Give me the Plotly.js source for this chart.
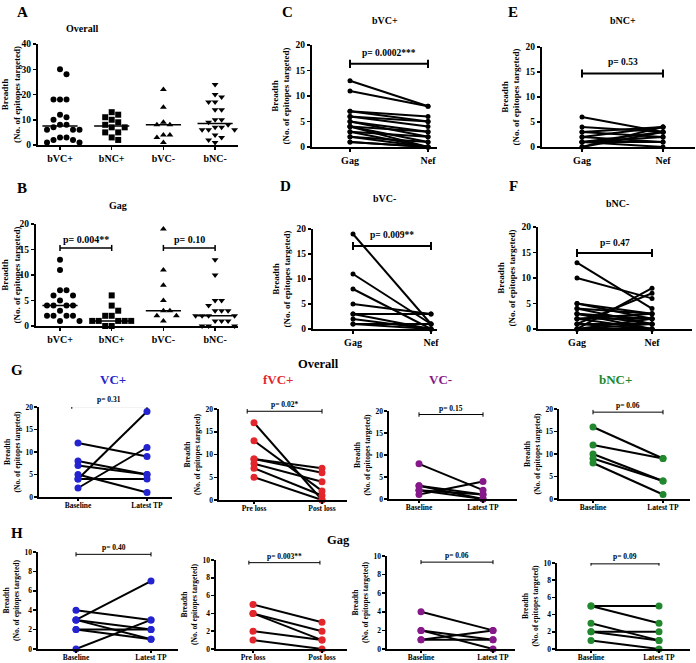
<!DOCTYPE html>
<html>
<head>
<meta charset="utf-8">
<script src="https://cdn.plot.ly/plotly-3.0.1.min.js"></script>
<style>
  html, body { margin: 0; padding: 0; background: #fff; }
  #fig { width: 696px; height: 663px; }
</style>
</head>
<body>
<div id="fig"></div>
<script>
// ---- datos: amplitud (n.º de epítopos) ----
const groups = ['bVC+', 'bNC+', 'bVC-', 'bNC-'];

// A: Overall
const ovBVCpos = [30, 28, 18, 18, 18, 12, 11, 10, 8, 8, 7, 6, 6, 6, 3, 3, 2, 2, 1, 1];
const ovBNCpos = [13, 12, 11, 10, 9, 8, 7, 7, 5, 5, 3, 2];
const ovBVCneg = [22, 15, 9, 8, 8, 4, 4, 3, 1];
const ovBNCneg = [24, 20, 19, 17, 17, 14, 14, 10, 10, 9, 8, 7, 7, 6, 6, 6, 4, 3, 2, 1];

// B: Gag
const gagBVCpos = [13, 11, 7, 7, 6, 6, 5, 4, 4, 4, 4, 3, 2, 2, 2, 2, 1, 1];
const gagBNCpos = [6, 4, 3, 2, 2, 1, 1, 1, 1, 1, 0, 0];
const gagBVCneg = [19, 11, 8, 5, 3, 3, 2, 2, 1];
const gagBNCneg = [13, 10, 5, 5, 4, 3, 3, 3, 2, 2, 2, 2, 2, 1, 1, 1, 0, 0, 0];

// C-F: Gag vs Nef
const gagNef = ['Gag', 'Nef'];
const cGag = [13, 11, 7, 7, 6, 6, 5, 5, 4, 4, 4, 3, 3, 2, 2, 1, 1];
const cNef = [8, 8, 6, 5, 5, 4, 3, 2, 3, 1, 0, 2, 0, 1, 0, 0, 0];
const dGag = [19, 11, 8, 5, 3, 3, 2, 1, 1];
const dNef = [1, 1, 0, 3, 3, 0, 0, 0, 1];
const eGag = [6, 4, 3, 3, 2, 2, 1, 1, 1, 1, 0, 0];
const eNef = [3, 3, 4, 2, 4, 1, 3, 2, 0, 1, 3, 4];
const fGag = [13, 10, 5, 5, 4, 4, 3, 3, 3, 2, 2, 2, 1, 1, 1, 0, 0, 0, 0];
const fNef = [4, 6, 3, 2, 3, 1, 2, 1, 0, 3, 2, 0, 7, 1, 0, 8, 2, 1, 0];

// G: Overall, seguimiento
const baseLatest = ['Baseline', 'Latest TP'];
const prePost = ['Pre loss', 'Post loss'];
const g1Base = [12, 8, 7, 5, 4, 2, 4];
const g1Late = [9, 5, 5, 1, 19, 11, 4];
const g2Pre = [17, 13, 9, 9, 8, 7, 5];
const g2Post = [0, 2, 7, 6, 4, 1, 0];
const g3Base = [8, 3, 3, 2, 1, 2];
const g3Late = [2, 1, 0, 0, 4, 1];
const g4Base = [16, 12, 10, 9, 8];
const g4Late = [9, 9, 4, 4, 1];

// H: Gag, seguimiento
const h1Base = [4, 3, 3, 3, 2, 2, 0];
const h1Late = [3, 7, 2, 1, 2, 1, 3];
const h2Pre = [5, 4, 4, 2, 1];
const h2Post = [3, 2, 1, 1, 0];
const h3Base = [4, 2, 2, 1, 1];
const h3Late = [2, 0, 1, 2, 1];
const h4Base = [5, 5, 3, 2, 2, 1];
const h4Late = [5, 3, 1, 2, 1, 0];

// ---- configuración ----
const W = 696, H = 663;
const serif = 'Liberation Serif, Times New Roman, serif';
const BLUE = '#2323cf', RED = '#e3262b', PURPLE = '#86198a', GREEN = '#21882d';
const yTitle = 'Breadth<br>(No. of epitopes targeted)';

const layout = {
    width: W, height: H,
    margin: { l: 0, r: 0, t: 0, b: 0 },
    paper_bgcolor: '#fff', plot_bgcolor: 'rgba(0,0,0,0)',
    showlegend: false,
    font: { family: serif, color: '#000' },
    annotations: [], shapes: []
};
const traces = [];

// caja en px: [izq, der, arriba, abajo]; c0/c1 = px de las dos primeras categorías
function addPanel(i, box, cats, c0, c1, yMax, dtick, small) {
    const [l, r, t, b] = box;
    const unit = c1 - c0;
    const sfx = i === 1 ? '' : String(i);
    const tf = { family: serif, size: small ? 7.5 : 9.5, color: '#000', weight: 'bold' };
    layout['xaxis' + sfx] = {
        domain: [l / W, r / W], anchor: 'y' + sfx,
        range: [(l - c0) / unit, (r - c0) / unit],
        tickvals: cats.map((c, k) => k), ticktext: cats,
        showline: true, linewidth: small ? 1.6 : 2, linecolor: '#000',
        ticks: 'outside', ticklen: small ? 2 : 3, tickwidth: 1.5, tickcolor: '#000',
        ticklabelstandoff: small ? -2 : 0,
        showgrid: false, zeroline: false, fixedrange: true,
        tickfont: { family: serif, size: small ? 7.5 : 10, color: '#000', weight: 'bold' }
    };
    layout['yaxis' + sfx] = {
        domain: [1 - b / H, 1 - t / H], anchor: 'x' + sfx,
        range: [0, yMax], dtick: dtick,
        showline: true, linewidth: small ? 1.6 : 2, linecolor: '#000',
        ticks: 'outside', ticklen: 3, tickwidth: 1.5, tickcolor: '#000',
        showgrid: false, zeroline: false, fixedrange: true, tickfont: tf,
        title: { text: yTitle, standoff: 4,
                 font: { family: serif, size: small ? 7.5 : 9, color: '#000', weight: 'bold' } }
    };
    return { x: 'x' + sfx, y: 'y' + sfx, pxX: unit, pxY: (b - t) / yMax,
             paperY: v => 1 - (b - v * (b - t) / yMax) / H };
}

// reparto tipo "beeswarm" para los puntos de A y B
function swarm(vals, cat, pxX, pxY, d) {
    const order = vals.map((v, i) => i).sort((a, b) => vals[b] - vals[a]);
    const placed = [];
    const xs = new Array(vals.length);
    order.forEach(i => {
        const y = vals[i] * pxY;
        for (let k = 0; k < 40; k++) {
            const off = (k === 0 ? 0 : (k % 2 ? 1 : -1) * Math.ceil(k / 2)) * d;
            if (placed.every(p => Math.hypot(p[0] - off, p[1] - y) >= d)) {
                placed.push([off, y]);
                xs[i] = cat + off / pxX;
                return;
            }
        }
    });
    return xs;
}

function median(arr) {
    const s = [...arr].sort((a, b) => a - b);
    const m = Math.floor(s.length / 2);
    return s.length % 2 ? s[m] : (s[m - 1] + s[m]) / 2;
}

const symbols = ['circle', 'square', 'triangle-up', 'triangle-down'];
function dotPanel(ax, sets) {
    sets.forEach((vals, k) => {
        traces.push({
            x: swarm(vals, k, ax.pxX, ax.pxY, 6.5), y: vals,
            xaxis: ax.x, yaxis: ax.y, type: 'scatter', mode: 'markers', cliponaxis: false,
            marker: { symbol: symbols[k], size: 6, color: '#000' }, hoverinfo: 'y'
        });
        const m = median(vals);
        traces.push({
            x: [k - 0.34, k + 0.34], y: [m, m], xaxis: ax.x, yaxis: ax.y,
            type: 'scatter', mode: 'lines', line: { color: '#000', width: 1.5 }, hoverinfo: 'skip'
        });
    });
}

function pairPanel(ax, before, after, color, size, width) {
    const xs = [], ys = [];
    before.forEach((v, k) => { xs.push(0, 1, null); ys.push(v, after[k], null); });
    traces.push({
        x: xs, y: ys, xaxis: ax.x, yaxis: ax.y, type: 'scatter', mode: 'lines+markers',
        cliponaxis: false, connectgaps: false,
        line: { color: '#000', width: width },
        marker: { color: color, size: size }, hoverinfo: 'y'
    });
}

function pBar(ax, x0, x1, y, cap, text, ty, width, fs) {
    const sh = { type: 'line', xref: ax.x, yref: ax.y, line: { color: '#000', width: width } };
    layout.shapes.push({ ...sh, x0: x0, x1: x1, y0: y, y1: y });
    layout.shapes.push({ ...sh, x0: x0, x1: x0, y0: y - cap, y1: y + cap });
    layout.shapes.push({ ...sh, x0: x1, x1: x1, y0: y - cap, y1: y + cap });
    layout.annotations.push({ xref: ax.x, yref: 'paper', x: (x0 + x1) / 2, y: ax.paperY(ty),
        text: text, showarrow: false, yanchor: 'middle',
        font: { family: serif, size: fs, color: '#000', weight: 'bold' } });
}

function label(x, y, text, size, color) {
    layout.annotations.push({ xref: 'paper', yref: 'paper', x: x / W, y: 1 - y / H, text: text,
        showarrow: false, xanchor: 'center', yanchor: 'middle',
        font: { family: serif, size: size, color: color || '#000', weight: 'bold' } });
}

// ---- paneles ----
const axA = addPanel(1, [38, 238, 44, 145], groups, 60, 111.7, 40, 10, false);
dotPanel(axA, [ovBVCpos, ovBNCpos, ovBVCneg, ovBNCneg]);

const axB = addPanel(2, [36, 238, 224, 326], groups, 60, 111.7, 20, 5, false);
dotPanel(axB, [gagBVCpos, gagBNCpos, gagBVCneg, gagBNCneg]);
pBar(axB, 0, 1, 15.3, 0.6, 'p= 0.004**', 17, 1.5, 10);
pBar(axB, 2, 3, 15.3, 0.6, 'p= 0.10', 17, 1.5, 10);

const axC = addPanel(3, [312, 437, 45, 147], gagNef, 350, 428, 20, 5, false);
pairPanel(axC, cGag, cNef, '#000', 5, 2);
pBar(axC, 0, 1, 16.3, 0.8, 'p= 0.0002***', 18.5, 2, 9.5);

const axD = addPanel(4, [313, 437, 229, 329], gagNef, 353, 431, 20, 5, false);
pairPanel(axD, dGag, dNef, '#000', 5, 2);
pBar(axD, 0, 1, 16.6, 0.8, 'p= 0.009**', 18.8, 2, 9.5);

const axE = addPanel(5, [542, 695, 47, 147], gagNef, 582, 663, 20, 5, false);
pairPanel(axE, eGag, eNef, '#000', 5, 2);
pBar(axE, 0, 1, 14.7, 0.8, 'p= 0.53', 17.1, 2, 9.5);

const axF = addPanel(6, [538, 692, 227, 329], gagNef, 577, 652, 20, 5, false);
pairPanel(axF, fGag, fNef, '#000', 5, 2);
pBar(axF, 0, 1, 14.9, 0.8, 'p= 0.47', 16.9, 2, 9.5);

const axG1 = addPanel(7, [39, 172, 407, 497], baseLatest, 78, 147, 20, 5, true);
pairPanel(axG1, g1Base, g1Late, BLUE, 7, 2);
pBar(axG1, -0.09, 1, 20.1, 0.5, 'p= 0.31', 21.6, 1, 7.5);

const axG2 = addPanel(8, [219, 347, 409, 500], prePost, 254, 322, 20, 5, true);
pairPanel(axG2, g2Pre, g2Post, RED, 7, 2);
pBar(axG2, -0.1, 1, 19.5, 0.5, 'p= 0.02*', 21, 1, 7.5);

const axG3 = addPanel(9, [389, 517, 411, 499], baseLatest, 419, 483, 20, 5, true);
pairPanel(axG3, g3Base, g3Late, PURPLE, 7, 2);
pBar(axG3, 0, 1, 19.2, 0.5, 'p= 0.15', 20.6, 1, 7.5);

const axG4 = addPanel(10, [559, 690, 409, 499], baseLatest, 593, 663, 20, 5, true);
pairPanel(axG4, g4Base, g4Late, GREEN, 7, 2);
pBar(axG4, 0, 1, 19.3, 0.5, 'p= 0.06', 20.7, 1, 7.5);

const axH1 = addPanel(11, [38, 178, 552, 649], baseLatest, 76, 151, 10, 2, true);
pairPanel(axH1, h1Base, h1Late, BLUE, 7, 2);
pBar(axH1, 0, 1, 9.76, 0.22, 'p= 0.40', 10.45, 1, 7.5);

const axH2 = addPanel(12, [216, 347, 560, 649], prePost, 253, 322, 10, 2, true);
pairPanel(axH2, h2Pre, h2Post, RED, 7, 2);
pBar(axH2, -0.06, 0.97, 9.7, 0.22, 'p= 0.003**', 10.4, 1, 7.5);

const axH3 = addPanel(13, [387, 515, 556, 649], baseLatest, 421, 493, 10, 2, true);
pairPanel(axH3, h3Base, h3Late, PURPLE, 7, 2);
pBar(axH3, 0, 1, 9.34, 0.22, 'p= 0.06', 10.05, 1, 7.5);

const axH4 = addPanel(14, [557, 690, 563, 649], baseLatest, 591, 659, 10, 2, true);
pairPanel(axH4, h4Base, h4Late, GREEN, 7, 2);
pBar(axH4, 0, 1, 9.9, 0.22, 'p= 0.09', 10.8, 1, 7.5);

// letras y títulos
label(22, 12, 'A', 15); label(22, 188, 'B', 15);
label(287, 12, 'C', 15); label(285, 186, 'D', 15);
label(513, 12, 'E', 15); label(513, 186, 'F', 15);
label(17, 370, 'G', 15); label(17, 533, 'H', 15);
label(82, 29, 'Overall', 10); label(118, 205, 'Gag', 10);
label(385, 20, 'bVC+', 10); label(385, 198, 'bVC-', 10);
label(623, 20, 'bNC+', 10); label(617, 203, 'bNC-', 10);
label(318, 364, 'Overall', 12.5);
label(113, 379, 'VC+', 13, BLUE); label(278, 379, 'fVC+', 13, RED);
label(440, 379, 'VC-', 13, PURPLE); label(615, 379, 'bNC+', 13, GREEN);
label(338, 540, 'Gag', 12.5);

Plotly.newPlot('fig', traces, layout, { displayModeBar: false, staticPlot: true });
</script>
</body>
</html>
